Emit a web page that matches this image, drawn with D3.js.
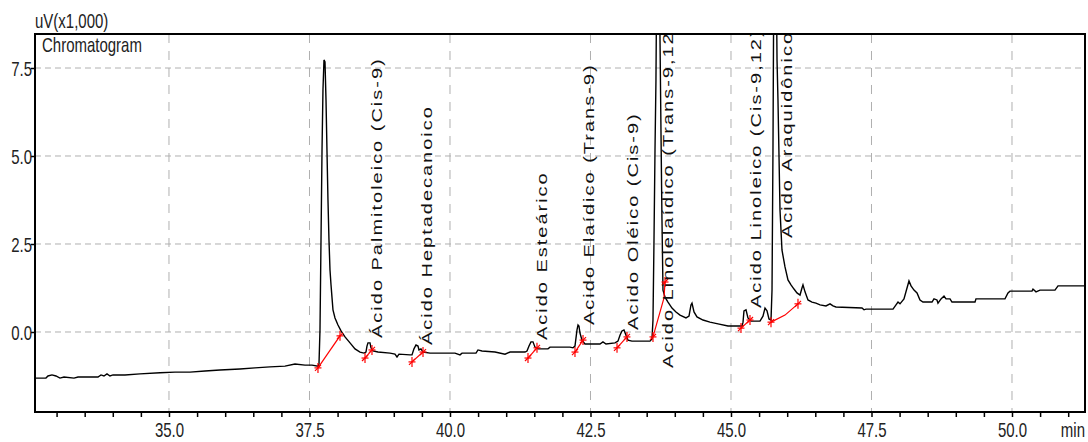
<!DOCTYPE html>
<html>
<head>
<meta charset="utf-8">
<script src="https://cdn.jsdelivr.net/npm/d3@7"></script>
<style>
  html, body { margin: 0; padding: 0; background: #fff; }
  svg { display: block; font-family: "Liberation Sans", Arial, sans-serif; }
</style>
</head>
<body>
<svg width="1088" height="442"></svg>
<script>
// retention time (min) and detector signal (uV x1000)
var traceTime = [32.616,32.811,32.847,32.918,32.989,33.060,33.132,33.310,33.381,33.737,33.790,33.843,33.897,33.950,34.004,34.217,34.484,34.840,35.107,35.374,35.641,35.907,36.263,36.530,36.797,37.064,37.242,37.420,37.545,37.651,
	37.669,37.687,37.705,37.723,37.740,37.758,37.776,37.794,37.811,37.829,37.847,37.865,37.883,37.900,37.918,37.954,38.007,38.061,38.132,38.221,38.310,38.399,38.470,
	38.505,38.523,38.541,38.577,38.594,38.630,38.719,38.933,39.021,39.057,39.093,39.288,
	39.324,39.359,39.395,39.431,39.448,39.484,39.520,39.644,40.089,40.178,40.214,40.463,40.498,40.569,40.801,40.979,41.068,41.335,
	41.370,41.406,41.441,41.477,41.512,41.566,41.744,41.779,42.135,42.188,
	42.224,42.260,42.278,42.295,42.313,42.349,42.402,42.669,42.722,42.776,42.936,
	42.989,43.025,43.060,43.096,43.132,43.167,43.238,43.559,43.594,
	43.612,43.630,43.648,43.665,43.683,43.719,43.737,43.754,43.772,43.790,43.826,43.879,43.950,44.021,44.093,44.199,44.253,44.288,44.306,44.342,44.395,44.502,44.626,44.769,44.947,45.196,
	45.214,45.231,45.267,45.302,45.356,45.516,45.569,45.605,45.641,45.676,45.712,
	45.730,45.747,45.765,45.801,45.819,45.836,45.872,45.907,45.961,46.014,46.068,46.121,46.174,46.228,46.263,46.281,46.317,46.370,46.441,46.512,46.584,46.690,46.762,46.815,46.868,47.331,47.367,47.402,47.883,47.936,47.972,48.007,48.078,48.132,48.167,48.203,48.256,48.310,48.363,48.416,48.577,48.612,48.665,48.683,48.737,48.790,48.826,48.897,48.932,49.342,49.359,49.875,49.929,49.964,50.356,50.374,50.427,50.498,50.765,50.819,51.299];

var traceSignal = [-1.31,-1.31,-1.25,-1.22,-1.25,-1.31,-1.28,-1.31,-1.28,-1.28,-1.22,-1.25,-1.19,-1.25,-1.22,-1.22,-1.19,-1.16,-1.14,-1.14,-1.11,-1.08,-1.05,-1.02,-0.99,-0.97,-0.91,-0.94,-0.94,-0.97,
	-0.91,0.06,2.61,5.17,6.88,7.73,7.67,6.59,5.17,3.75,2.61,1.76,1.34,0.99,0.63,0.40,0.20,0.03,-0.14,-0.31,-0.48,-0.57,-0.60,
	-0.57,-0.40,-0.31,-0.31,-0.45,-0.54,-0.57,-0.60,-0.63,-0.71,-0.63,-0.65,
	-0.65,-0.48,-0.37,-0.40,-0.51,-0.48,-0.57,-0.60,-0.60,-0.65,-0.60,-0.60,-0.51,-0.54,-0.57,-0.63,-0.57,-0.57,
	-0.54,-0.40,-0.28,-0.28,-0.43,-0.48,-0.48,-0.43,-0.43,-0.45,
	-0.40,0.06,0.20,0.17,-0.03,-0.23,-0.34,-0.34,-0.28,-0.34,-0.31,
	-0.26,-0.09,0.03,0.06,-0.09,-0.23,-0.26,-0.26,-0.20,
	0.34,2.61,5.17,7.16,11.14,11.14,8.30,5.74,3.18,1.19,0.99,0.85,0.68,0.57,0.48,0.40,0.45,0.77,0.82,0.57,0.43,0.34,0.28,0.23,0.17,0.17,
	0.28,0.60,0.63,0.40,0.31,0.31,0.45,0.68,0.60,0.37,0.34,
	1.19,5.17,11.14,11.14,7.73,6.59,3.47,2.33,1.85,1.48,1.34,1.22,1.11,1.05,1.25,1.34,1.14,0.91,0.85,0.82,0.77,0.74,0.80,0.74,0.71,0.68,0.63,0.65,0.65,0.77,0.85,0.80,0.94,1.25,1.45,1.31,1.19,1.11,0.91,0.85,0.85,0.94,0.91,0.82,0.94,1.02,0.94,0.94,0.85,0.85,0.94,0.94,1.11,1.16,1.16,1.22,1.14,1.19,1.19,1.31,1.31];

// integration baselines (time, signal) drawn in red
var integrationLines = [
	[[37.651, -1.02], [38.043, -0.11]],
	[[38.488, -0.74], [38.612, -0.51]],
	[[39.324, -0.85], [39.520, -0.57]],
	[[41.388, -0.74], [41.548, -0.45]],
	[[42.224, -0.57], [42.367, -0.23]],
	[[42.972, -0.45], [43.149, -0.14]],
	[[43.612, -0.14], [43.808, 0.97], [43.826, 1.42]],
	[[45.178, 0.11], [45.338, 0.34]],
	[[45.712, 0.28], [45.961, 0.48], [46.192, 0.80]]
];

var peakNames = ["Ácido Palmitoleico (Cis-9)", "Ácido Heptadecanoico", "Acido Esteárico",
	"Acido Elaídico (Trans-9)", "Acido Oléico (Cis-9)", "Acido Linolelaídico (Trans-9,12)",
	"Acido Linoleico (Cis-9,12)", "Acido Araquidônico"];
var peakLabelTime = [38.790, 39.680, 41.726, 42.562, 43.345, 43.968, 45.534, 46.085];
var peakLabelSignal = [-0.17, -0.37, -0.23, 0.20, 0.06, -1.02, 0.68, 2.67];

var xTicks = d3.range(33, 51.01, 0.5);
var xGrid = [35, 37.5, 40, 42.5, 45, 47.5, 50];
var yTicks = [0, 2.5, 5, 7.5];

function drawChromatogram() {
	var svg = d3.select("svg"),
		margin = {
			top: 34,
			right: 3,
			bottom: 30,
			left: 35
		},
		width = +svg.attr("width") - margin.left - margin.right,
		height = +svg.attr("height") - margin.top - margin.bottom;

	var x = d3.scaleLinear().domain([32.616, 51.299]).range([0, width]);
	var y = d3.scaleLinear().domain([-2.273, 8.466]).range([height, 0]);

	var g = svg.append("g")
		.attr("transform", "translate(" + margin.left + "," + margin.top + ")");

	svg.append("defs").append("clipPath")
		.attr("id", "plot-clip")
		.append("rect")
		.attr("width", width)
		.attr("height", height);

	// grid
	g.selectAll(".vgrid").data(xGrid).enter().append("line")
		.attr("x1", function(d) { return x(d); })
		.attr("x2", function(d) { return x(d); })
		.attr("y1", 0).attr("y2", height)
		.attr("stroke", "#b0b0b0").attr("stroke-width", 1)
		.attr("stroke-dasharray", "9,8");
	g.selectAll(".hgrid").data(yTicks).enter().append("line")
		.attr("x1", 0).attr("x2", width)
		.attr("y1", function(d) { return y(d); })
		.attr("y2", function(d) { return y(d); })
		.attr("stroke", "#b0b0b0").attr("stroke-width", 1)
		.attr("stroke-dasharray", "6,4");

	var plot = g.append("g").attr("clip-path", "url(#plot-clip)");

	// the trace
	var data = d3.zip(traceTime, traceSignal);
	var line = d3.line()
		.x(function(d) { return x(d[0]); })
		.y(function(d) { return y(d[1]); });

	plot.append("path")
		.datum(data)
		.attr("fill", "none")
		.attr("stroke", "#000")
		.attr("stroke-width", 1.4)
		.attr("d", line);

	// integration baselines
	plot.selectAll(".integ").data(integrationLines).enter().append("path")
		.attr("fill", "none")
		.attr("stroke", "#f00")
		.attr("stroke-width", 1.2)
		.attr("d", line);

	var ends = [];
	integrationLines.forEach(function(l) {
		ends.push(l[0]);
		ends.push(l[l.length - 1]);
	});
	var marks = plot.selectAll(".mark").data(ends).enter().append("g")
		.attr("transform", function(d) { return "translate(" + x(d[0]) + "," + y(d[1]) + ")"; })
		.attr("stroke", "#f00").attr("stroke-width", 1.2);
	marks.append("line").attr("x1", -3.5).attr("x2", 3.5).attr("y1", 0).attr("y2", 0);
	marks.append("line").attr("x1", 0).attr("x2", 0).attr("y1", -5).attr("y2", 5);
	marks.append("line").attr("x1", -3).attr("x2", 3).attr("y1", 3).attr("y2", -3);

	// peak labels
	plot.selectAll(".plabel").data(peakNames).enter().append("text")
		.attr("transform", function(d, i) {
			return "translate(" + x(peakLabelTime[i]) + "," + y(peakLabelSignal[i]) + ") scale(0.75,1) rotate(-90)";
		})
		.attr("font-size", 20)
		.attr("letter-spacing", 2)
		.attr("fill", "#111")
		.text(function(d) { return d; });

	// X axis
	var xAxis = g.append("g")
		.attr("transform", "translate(0," + height + ")")
		.call(d3.axisBottom(x)
			.tickValues(xTicks)
			.tickSize(5)
			.tickSizeOuter(0)
			.tickFormat(function(d) { return (d % 2.5 === 0) ? d3.format(".1f")(d) : ""; }));
	xAxis.select(".domain").remove();
	xAxis.selectAll(".tick line").attr("stroke", "#000").attr("stroke-width", 1.5);
	xAxis.selectAll(".tick text")
		.attr("font-size", 20)
		.attr("font-family", "Liberation Sans, Arial, sans-serif")
		.attr("fill", "#222")
		.attr("y", 25).attr("dy", 0)
		.attr("transform", "scale(0.75,1)");

	// Y axis
	var yAxis = g.append("g")
		.call(d3.axisLeft(y)
			.tickValues(yTicks)
			.tickSize(4)
			.tickSizeOuter(0)
			.tickFormat(d3.format(".1f")));
	yAxis.select(".domain").remove();
	yAxis.selectAll(".tick line").attr("stroke", "#000").attr("stroke-width", 1.5);
	yAxis.selectAll(".tick text")
		.attr("font-size", 20)
		.attr("font-family", "Liberation Sans, Arial, sans-serif")
		.attr("fill", "#222")
		.attr("x", -4).attr("dy", "0.36em")
		.attr("transform", "scale(0.75,1)");

	// frame
	g.append("rect")
		.attr("width", width)
		.attr("height", height)
		.attr("fill", "none")
		.attr("stroke", "#000")
		.attr("stroke-width", 2);

	// titles
	svg.append("text")
		.attr("transform", "translate(" + margin.left + ",28) scale(0.75,1)")
		.attr("font-size", 20).attr("fill", "#222")
		.text("uV(x1,000)");
	g.append("text")
		.attr("transform", "translate(7,18) scale(0.75,1)")
		.attr("font-size", 20).attr("fill", "#222")
		.text("Chromatogram");
	svg.append("text")
		.attr("transform", "translate(" + (margin.left + width) + ",437) scale(0.75,1)")
		.attr("font-size", 20).attr("fill", "#222")
		.attr("text-anchor", "end")
		.text("min");
}

drawChromatogram();
</script>
</body>
</html>
